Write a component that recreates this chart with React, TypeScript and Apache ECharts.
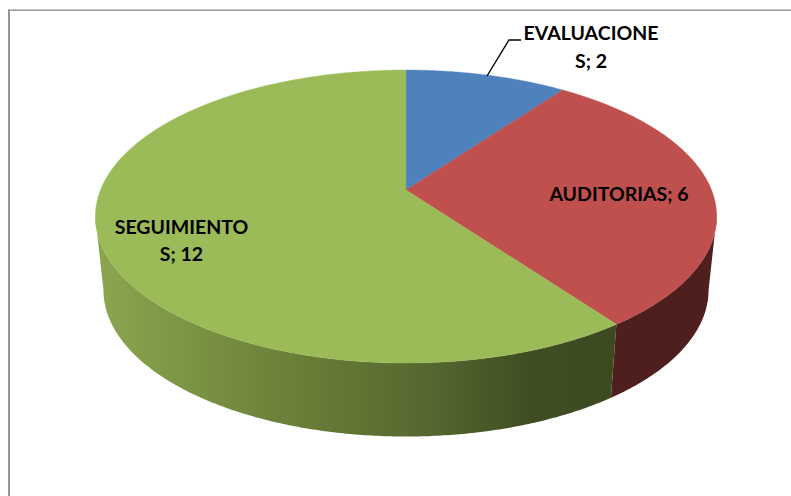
import React, { useEffect, useRef } from "react";
import * as echarts from "echarts";

const categories = ["EVALUACIONES", "AUDITORIAS", "SEGUIMIENTOS"];
const values = [2, 6, 12];
const sliceColors = ["#4f81bd", "#c0504d", "#9bbb59"];
const labelLines = [["EVALUACIONE", "S; 2"], ["AUDITORIAS; 6"], ["SEGUIMIENTO", "S; 12"]];
const labelCenters = [[591, 46.5], [619, 193.5], [181.5, 240]];

const CX = 406;
const CY = 216.5;
const KP = -0.181;
const SX = 305.5;
const SY = 146.5;
const OFF = -26.5;
const DEPTH = 73.5;
const BOTTOM_SCALE = 0.974;
const total = values.reduce((a, b) => a + b, 0);

function rim(deg: number, bottom: boolean): number[] {
  const t = (deg * Math.PI) / 180;
  const X = Math.sin(t);
  const Y = -Math.cos(t);
  const d = 1 + KP * Y;
  const s = bottom ? BOTTOM_SCALE : 1;
  return [CX + (SX * s * X) / d, CY + (SY * Y + OFF) / d + (bottom ? DEPTH : 0)];
}

function range(index: number): number[] {
  const before = values.slice(0, index).reduce((a, b) => a + b, 0);
  return [(before / total) * 360, ((before + values[index]) / total) * 360];
}

function arcDegs(a: number, b: number): number[] {
  const out: number[] = [];
  for (let d = a; d < b; d += 0.5) out.push(d);
  out.push(b);
  return out;
}

const greenWall = new echarts.graphic.LinearGradient(
  96, 0, 612, 0,
  [
    { offset: 0, color: "#8ba64f" },
    { offset: 0.36, color: "#6c8139" },
    { offset: 0.64, color: "#55682f" },
    { offset: 0.84, color: "#3f4e22" },
    { offset: 1, color: "#3d4a20" },
  ],
  true
);
const wallFills: any[] = ["#2a4467", "#4f1f1e", greenWall];

function renderWall(params: any) {
  const i = params.dataIndex;
  const [a, b] = range(i);
  const degs = arcDegs(a, b).filter((d) => -Math.cos((d * Math.PI) / 180) >= -KP);
  if (degs.length < 2) return { type: "group", children: [] };
  const pts = degs.map((d) => rim(d, false)).concat(degs.slice().reverse().map((d) => rim(d, true)));
  return { type: "polygon", shape: { points: pts }, style: { fill: wallFills[i], stroke: null } };
}

function renderTop(params: any, api: any) {
  const i = params.dataIndex;
  const [a, b] = range(i);
  const pts = [[CX, CY + OFF]].concat(arcDegs(a, b).map((d) => rim(d, false)));
  return { type: "polygon", shape: { points: pts }, style: { fill: api.visual("color"), stroke: api.visual("color"), lineWidth: 0.4 } };
}

function renderLabel(params: any) {
  const i = params.dataIndex;
  const [x, y] = labelCenters[i];
  return {
    type: "text",
    x,
    y,
    style: {
      text: labelLines[i].join("\n"),
      fill: "#000",
      font: "bold 19.5px Lato, 'Open Sans', sans-serif",
      lineHeight: 27.5,
      align: "center",
      verticalAlign: "middle",
    },
  };
}

export default function App() {
  const ref = useRef<HTMLDivElement>(null);
  useEffect(() => {
    document.body.style.margin = "0";
    const chart = echarts.init(ref.current!, undefined, { renderer: "svg" });
    const data = categories.map((name, i) => ({
      name,
      value: values[i],
      itemStyle: { color: sliceColors[i] },
    }));
    chart.setOption({
      animation: false,
      backgroundColor: "#ffffff",
      tooltip: { show: false },
      graphic: [
        { type: "rect", shape: { x: 8, y: 9.5, width: 783, height: 1.5 }, style: { fill: "#969696" }, silent: true },
        { type: "rect", shape: { x: 8, y: 9.5, width: 2, height: 486.5 }, style: { fill: "#969696" }, silent: true },
        {
          type: "polyline",
          shape: { points: [[487, 76], [509, 40], [521, 40]] },
          style: { stroke: "#000", lineWidth: 1.4, fill: null },
          z: 10,
          silent: true,
        },
      ],
      series: [
        { type: "custom", coordinateSystem: "none", renderItem: renderWall, data, silent: true, z: 1 },
        { type: "custom", coordinateSystem: "none", renderItem: renderTop, data, silent: true, z: 2 },
        { type: "custom", coordinateSystem: "none", renderItem: renderLabel, data, silent: true, z: 3 },
      ],
    });
    return () => chart.dispose();
  }, []);
  return <div ref={ref} style={{ position: "fixed", left: 0, top: 0, width: 791, height: 496, overflow: "hidden" }} />;
}
